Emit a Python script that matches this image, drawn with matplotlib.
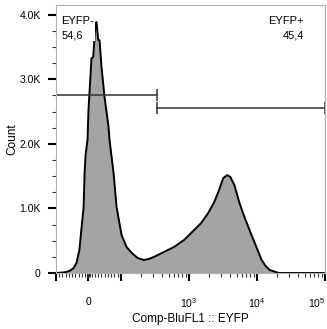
import numpy as np
import matplotlib
matplotlib.use("Agg")
import matplotlib.pyplot as plt
from matplotlib.ticker import FixedLocator, NullFormatter

plt.rcParams['font.family'] = ['Liberation Sans', 'DejaVu Sans']
plt.rcParams['mathtext.default'] = 'regular'

# histogram (EYFP intensity, event count)
eyfp = [-100, -80, -68, -56, -46, -37, -28, -22, -15, -12, -9, -3, 0,
        9.3, 14.5, 21.6, 24.7, 29.9, 34, 40.1, 49.4, 61.7, 64.8, 77.2, 86.4,
        102, 121, 144, 176, 216, 256, 304, 428, 601, 846, 1150, 1510, 1919,
        2355, 2698, 3199, 3664, 4064, 4656, 5521, 6546, 7762, 9527, 11700,
        13400, 15400, 20900, 100000]
count = [0, 8, 15, 39, 77, 155, 356, 666, 1022, 1548, 1827, 2059, 2523,
         3328, 3344, 3870, 3885, 3607, 3607, 3189, 2724, 2260, 2059, 1548, 1022,
         588, 402, 310, 232, 201, 217, 248, 325, 402, 511, 650, 774, 929,
         1099, 1254, 1471, 1517, 1486, 1362, 1084, 867, 666, 433, 201,
         108, 46, 0, 0]

gate_names = ["EYFP-", "EYFP+"]
gate_pct = ["54,6", "45,4"]
gate_lo = [-100, 337]
gate_hi = [337, 100000]
gate_y = [2755, 2554]

x_major = [-100, 0, 100, 1000, 10000, 100000]
x_major_labels = ["", "0", "", "$10^3$", "$10^4$", "$10^5$"]
y_major = [0, 1000, 2000, 3000, 4000]
y_major_labels = ["0", "1.0K", "2.0K", "3.0K", "4.0K"]

fig = plt.figure(figsize=(3.27, 3.29), dpi=100)
ax = fig.add_axes([56 / 327, 1 - 273 / 329, 269 / 327, 268 / 329])
ax.set_xscale('symlog', linthresh=100, linscale=0.43)

ax.fill_between(eyfp, count, color='#a4a4a4', lw=0)
ax.plot(eyfp, count, color='black', lw=1.4)

# gates
for lo, hi, gy in zip(gate_lo, gate_hi, gate_y):
    ax.plot([lo, hi], [gy, gy], color='#333333', lw=1.1)
    ax.plot([lo, hi], [gy, gy], ls='none', marker='|', ms=8, mew=1.1, color='#333333')

ax.text(-83, 3980, gate_names[0] + "\n" + gate_pct[0], ha='left', va='top',
        fontsize=8, linespacing=1.6,
        bbox=dict(facecolor='white', edgecolor='none', pad=0.3))
ax.text(49000, 3980, gate_names[1] + "\n" + gate_pct[1], ha='right', va='top',
        fontsize=8, linespacing=1.6, multialignment='right')

ax.set_xlim(-100, 100000)
ax.set_ylim(0, 4150)

ax.xaxis.set_major_locator(FixedLocator(x_major))
ax.set_xticklabels(x_major_labels)
ax.get_xticklabels()[-1].set_horizontalalignment('right')
minors = [-v for v in range(10, 100, 10)] + [-5, -2, 2, 5] + list(range(10, 100, 10))
for dec in [100, 1000, 10000]:
    minors += [k * dec for k in range(2, 10)]
ax.xaxis.set_minor_locator(FixedLocator(minors))
ax.xaxis.set_minor_formatter(NullFormatter())

ax.yaxis.set_major_locator(FixedLocator(y_major))
ax.set_yticklabels(y_major_labels)
ax.yaxis.set_minor_locator(FixedLocator([v for v in range(250, 4150, 250) if v % 1000]))

ax.tick_params(axis='both', which='major', labelsize=7.5, width=1.5, length=6, color='black')
ax.tick_params(axis='both', which='minor', width=0.8, length=3, color='#333333')
ax.tick_params(axis='x', which='major', pad=11)
ax.tick_params(axis='y', which='major', pad=5)

for side in ['top', 'right', 'left', 'bottom']:
    ax.spines[side].set_color('#b0b0b0')
    ax.spines[side].set_linewidth(0.8)

ax.set_xlabel("Comp-BluFL1 :: EYFP", fontsize=8.5, labelpad=2)
ax.set_ylabel("Count", fontsize=8.5, labelpad=1)

fig.savefig("out.png", dpi=100)
